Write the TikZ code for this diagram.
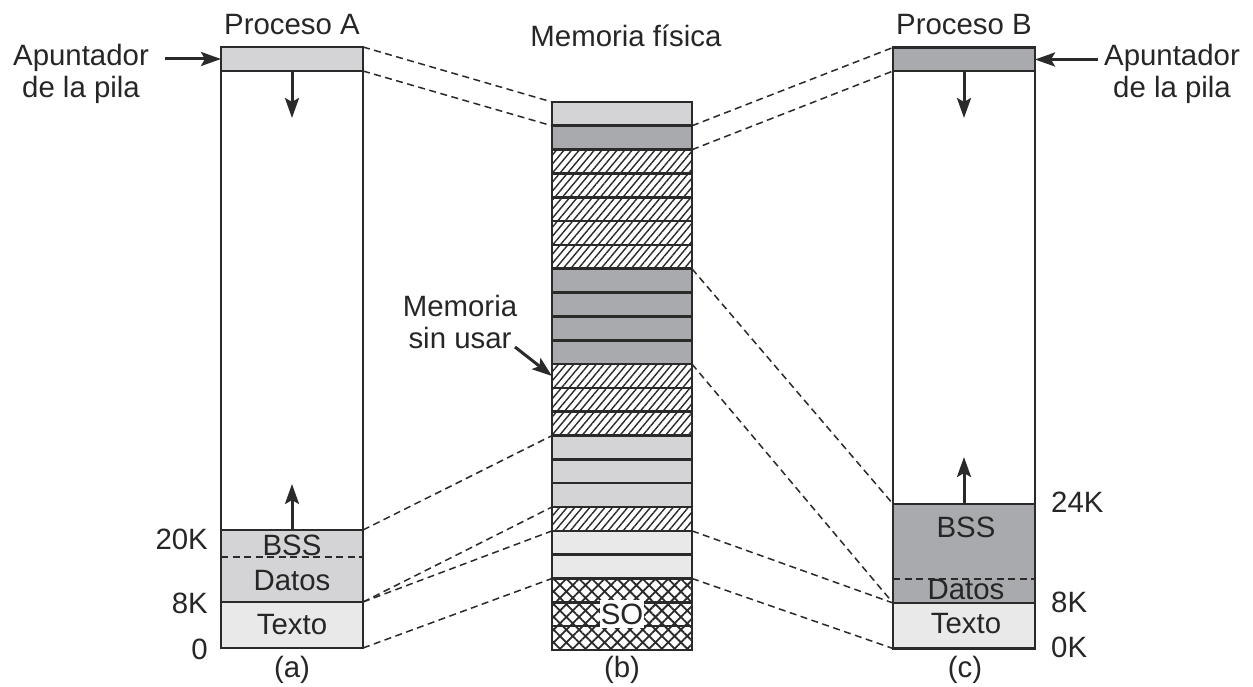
\documentclass[tikz,border=0pt]{standalone}
\usepackage{fontspec}
\setmainfont{Liberation Sans}
\usetikzlibrary{patterns.meta,arrows.meta}
\definecolor{lc}{HTML}{2A2A2A}
\definecolor{lgray}{HTML}{D4D4D6}
\definecolor{dgray}{HTML}{A9AAAE}
\definecolor{xgray}{HTML}{E9E9EA}
\definecolor{tc}{HTML}{262626}
\begin{document}
\begin{tikzpicture}[x=1bp,y=-1bp,font=\fontsize{29.5}{32}\selectfont,text=tc,
  blk/.style={draw=lc,line width=2.6bp,minimum width=140bp,minimum height=23.826bp,inner sep=0pt,outer sep=0pt},
  lg/.style={blk,fill=lgray},
  dg/.style={blk,fill=dgray},
  xg/.style={blk,fill=xgray},
  hat/.style={blk,preaction={fill=white},pattern={Lines[angle=50,distance=5.8bp,line width=1.4bp]},pattern color=lc},
  xhat/.style={blk,preaction={fill=white},pattern={Hatch[angle=45,distance=9bp,line width=1.8bp]},pattern color=lc},
  seg/.style={draw=lc,line width=2.6bp,minimum width=142bp,inner sep=0pt,outer sep=0pt},
  frame/.style={draw=lc,line width=2.8bp,minimum width=142bp,minimum height=601bp,inner sep=0pt,outer sep=0pt},
  conn/.style={draw=lc,line width=1.5bp,dash pattern=on 7bp off 4.5bp},
  arr/.style={draw=lc,line width=3bp,-{Stealth[length=20bp,width=14bp,inset=4bp]}},
  lbl/.style={inner sep=0pt}
]
\useasboundingbox (0,0) rectangle (1253,687);

% ---------- Proceso A ----------
\node[seg,fill=lgray,minimum height=24bp] (Astk) at (292,59) {};
\node[seg,fill=lgray,minimum height=72bp] (Adat) at (292,566) {};
\node[seg,fill=xgray,minimum height=46bp] (Atxt) at (292,625) {};
\node[frame] (A) at (292,347.5) {};
\draw[conn] (Adat.west |- 0,557) coordinate (Adl) -- (Adat.east |- 0,557) coordinate (Adr);
\node[lbl] (Abss) at (292,545) {BSS};
\node[lbl] (Adatos) at (292,581) {Datos};
\node[lbl] (Atexto) at (292,625) {Texto};
\node[lbl] (tA) at (292,25) {Proceso A};
\node[lbl,align=center] (pA) at (81,74) {Apuntador\\de la pila};
\coordinate (pAt) at (165,59);
\draw[arr] (pAt) -- (Astk.west);
\coordinate (Adn) at (292,118);
\draw[arr] (Astk.south) -- (Adn);
\coordinate (Aup) at (292,484);
\draw[arr] (Adat.north) -- (Aup);
\node[lbl,anchor=east] (A20) at (208,539) {20K};
\node[lbl,anchor=east] (A8) at (208,603) {8K};
\node[lbl,anchor=east] (A0) at (208,649) {0};
\node[lbl] (ca) at (292,670) {(a)};

% ---------- Memoria fisica ----------
\node[lg]   (m1)  at (622,113.9) {};
\node[dg]   (m2)  at (622,137.7) {};
\node[hat]  (m3)  at (622,161.6) {};
\node[hat]  (m4)  at (622,185.4) {};
\node[hat]  (m5)  at (622,209.2) {};
\node[hat]  (m6)  at (622,233.0) {};
\node[hat]  (m7)  at (622,256.9) {};
\node[dg]   (m8)  at (622,280.7) {};
\node[dg]   (m9)  at (622,304.5) {};
\node[dg]   (m10) at (622,328.3) {};
\node[dg]   (m11) at (622,352.2) {};
\node[hat]  (m12) at (622,376.0) {};
\node[hat]  (m13) at (622,399.8) {};
\node[hat]  (m14) at (622,423.6) {};
\node[lg]   (m15) at (622,447.5) {};
\node[lg]   (m16) at (622,471.3) {};
\node[lg]   (m17) at (622,495.1) {};
\node[hat]  (m18) at (622,518.9) {};
\node[xg]   (m19) at (622,542.8) {};
\node[xg]   (m20) at (622,566.6) {};
\node[xhat] (m21) at (622,590.4) {};
\node[xhat] (m22) at (622,614.2) {};
\node[xhat] (m23) at (622,638.1) {};
\node[fill=white,inner xsep=1bp,inner ysep=3.5bp] (so) at (622,614) {SO};
\node[lbl] (tM) at (626,36) {Memoria física};
\node[lbl,align=center] (msu) at (460,322) {Memoria\\sin usar};
\coordinate (msut) at (515,347);
\draw[arr] (msut) -- (m12.west);
\node[lbl] (cb) at (622,670) {(b)};

% ---------- Proceso B ----------
\node[seg,fill=dgray,minimum height=23bp] (Bstk) at (964,59.5) {};
\node[seg,fill=dgray,minimum height=99bp] (Bdat) at (964,553.5) {};
\node[seg,fill=xgray,minimum height=46bp] (Btxt) at (964,626) {};
\node[frame] (B) at (964,348) {};
\draw[conn] (Bdat.west |- 0,579) coordinate (Bdl) -- (Bdat.east |- 0,579) coordinate (Bdr);
\node[lbl] (Bbss) at (966,527) {BSS};
\node[lbl] (Bdatos) at (966,590) {Datos};
\node[lbl] (Btexto) at (966,624) {Texto};
\node[lbl] (tB) at (964,25) {Proceso B};
\node[lbl,align=center] (pB) at (1172,74) {Apuntador\\de la pila};
\coordinate (pBt) at (1098,59.5);
\draw[arr] (pBt) -- (Bstk.east);
\coordinate (Bdn) at (964,118);
\draw[arr] (Bstk.south) -- (Bdn);
\coordinate (Bup) at (964,457);
\draw[arr] (Bdat.north) -- (Bup);
\node[lbl,anchor=west] (B24) at (1051,502) {24K};
\node[lbl,anchor=west] (B8) at (1051,602) {8K};
\node[lbl,anchor=west] (B0) at (1051,647) {0K};
\node[lbl] (cc) at (965,670) {(c)};

% ---------- connectors ----------
\draw[conn] (A.north east) -- (m1.north west);
\draw[conn] (Astk.south east) -- (m2.north west);
\draw[conn] (Adat.north east) -- (m15.north west);
\draw[conn] (Adat.south east) -- (m18.north west);
\draw[conn] (Adat.south east) -- (m19.north west);
\draw[conn] (A.south east) -- (m21.north west);
\draw[conn] (m2.north east) -- (B.north west);
\draw[conn] (m3.north east) -- (Bstk.south west);
\draw[conn] (m8.north east) -- (Bdat.north west);
\draw[conn] (m12.north east) -- (Bdat.south west);
\draw[conn] (m19.north east) -- (Bdat.south west);
\draw[conn] (m21.north east) -- (B.south west);
\end{tikzpicture}
\end{document}
